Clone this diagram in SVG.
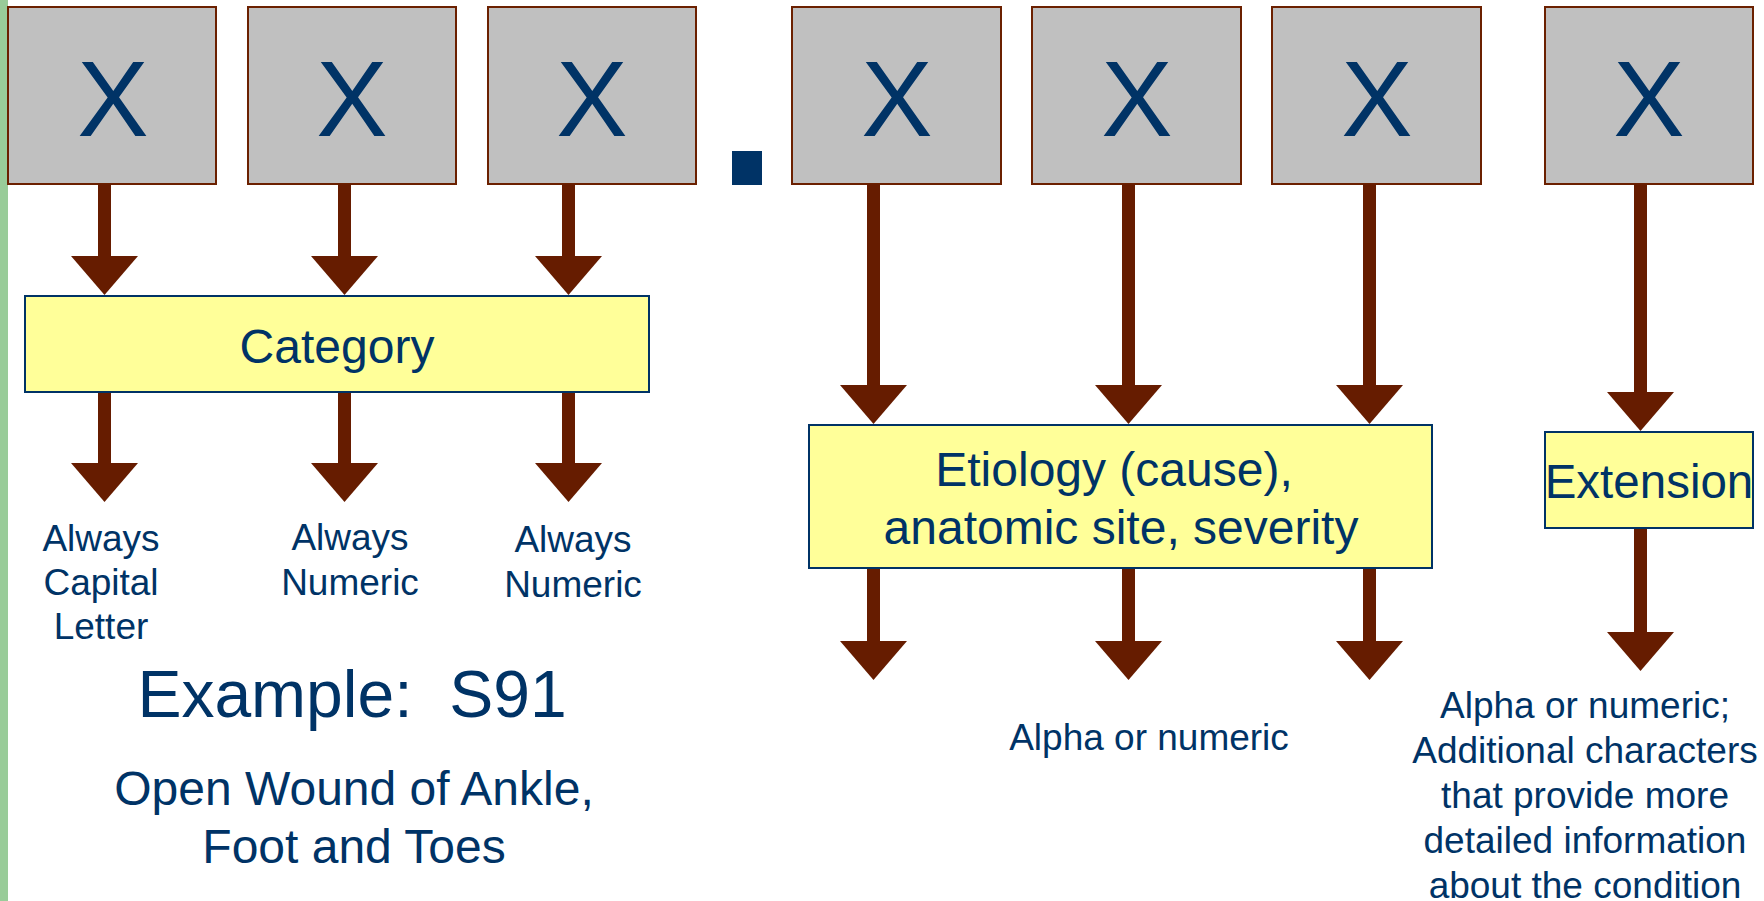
<svg xmlns="http://www.w3.org/2000/svg" width="1764" height="901" viewBox="0 0 1764 901">
<defs>
<style>
.box{fill:#c0c0c0;stroke:#6b2000;stroke-width:2}
.yel{fill:#ffff99;stroke:#003366;stroke-width:2}
.t{font-family:"Liberation Sans",Arial,sans-serif;fill:#003366;text-anchor:middle}
.x{font-size:107px}
.lb{font-size:37px}
.arr{fill:#661c00}
</style>
<path id="arrHead" d="M-33.5,0 L33.5,0 L0,39 Z"/>
</defs>
<rect x="0" y="0" width="1764" height="901" fill="#ffffff"/>
<rect x="0" y="0" width="8" height="901" fill="#99cc99"/>

<g id="char1"><rect class="box" x="8" y="7" width="208" height="177"/><text class="t x" x="113" y="136">X</text></g>
<g id="char2"><rect class="box" x="248" y="7" width="208" height="177"/><text class="t x" x="352" y="136">X</text></g>
<g id="char3"><rect class="box" x="488" y="7" width="208" height="177"/><text class="t x" x="592" y="136">X</text></g>
<g id="dot"><rect x="732" y="151" width="30" height="34" fill="#003366"/></g>
<g id="char4"><rect class="box" x="792" y="7" width="209" height="177"/><text class="t x" x="897" y="136">X</text></g>
<g id="char5"><rect class="box" x="1032" y="7" width="209" height="177"/><text class="t x" x="1137" y="136">X</text></g>
<g id="char6"><rect class="box" x="1272" y="7" width="209" height="177"/><text class="t x" x="1377" y="136">X</text></g>
<g id="char7"><rect class="box" x="1545" y="7" width="208" height="177"/><text class="t x" x="1649" y="136">X</text></g>

<g id="connectors" class="arr">
<rect x="98" y="184" width="13" height="73"/><use href="#arrHead" x="104.5" y="256"/>
<rect x="338" y="184" width="13" height="73"/><use href="#arrHead" x="344.5" y="256"/>
<rect x="562" y="184" width="13" height="73"/><use href="#arrHead" x="568.5" y="256"/>
<rect x="98" y="392" width="13" height="72"/><use href="#arrHead" x="104.5" y="463"/>
<rect x="338" y="392" width="13" height="72"/><use href="#arrHead" x="344.5" y="463"/>
<rect x="562" y="392" width="13" height="72"/><use href="#arrHead" x="568.5" y="463"/>
<rect x="867" y="184" width="13" height="202"/><use href="#arrHead" x="873.5" y="385"/>
<rect x="1122" y="184" width="13" height="202"/><use href="#arrHead" x="1128.5" y="385"/>
<rect x="1363" y="184" width="13" height="202"/><use href="#arrHead" x="1369.5" y="385"/>
<rect x="867" y="568" width="13" height="74"/><use href="#arrHead" x="873.5" y="641"/>
<rect x="1122" y="568" width="13" height="74"/><use href="#arrHead" x="1128.5" y="641"/>
<rect x="1363" y="568" width="13" height="74"/><use href="#arrHead" x="1369.5" y="641"/>
<rect x="1634" y="184" width="13" height="209"/><use href="#arrHead" x="1640.5" y="392"/>
<rect x="1634" y="528" width="13" height="105"/><use href="#arrHead" x="1640.5" y="632"/>
</g>

<g id="category"><rect class="yel" x="25" y="296" width="624" height="96"/><text class="t" x="337" y="363" font-size="48">Category</text></g>
<g id="etiology"><rect class="yel" x="809" y="425" width="623" height="143"/>
<text class="t" x="1114" y="486" font-size="48">Etiology (cause),</text>
<text class="t" x="1121" y="544" font-size="48">anatomic site, severity</text></g>
<g id="extension"><rect class="yel" x="1545" y="432" width="208" height="96"/><text class="t" x="1649" y="498" font-size="47.5">Extension</text></g>

<g id="label1"><text class="t lb" x="101" y="551">Always</text><text class="t lb" x="101" y="595">Capital</text><text class="t lb" x="101" y="639">Letter</text></g>
<g id="label2"><text class="t lb" x="350" y="550">Always</text><text class="t lb" x="350" y="595">Numeric</text></g>
<g id="label3"><text class="t lb" x="573" y="552">Always</text><text class="t lb" x="573" y="597">Numeric</text></g>

<g id="example"><text class="t" x="352" y="717" font-size="66" xml:space="preserve">Example:  S91</text>
<text class="t" x="354" y="805" font-size="48">Open Wound of Ankle,</text>
<text class="t" x="354" y="863" font-size="48">Foot and Toes</text></g>

<g id="label4"><text class="t" x="1149" y="750" font-size="37">Alpha or numeric</text></g>
<g id="label5">
<text class="t lb" x="1585" y="718">Alpha or numeric;</text>
<text class="t lb" x="1585" y="763">Additional characters</text>
<text class="t lb" x="1585" y="808">that provide more</text>
<text class="t lb" x="1585" y="853">detailed information</text>
<text class="t lb" x="1585" y="898">about the condition</text>
</g>
</svg>
